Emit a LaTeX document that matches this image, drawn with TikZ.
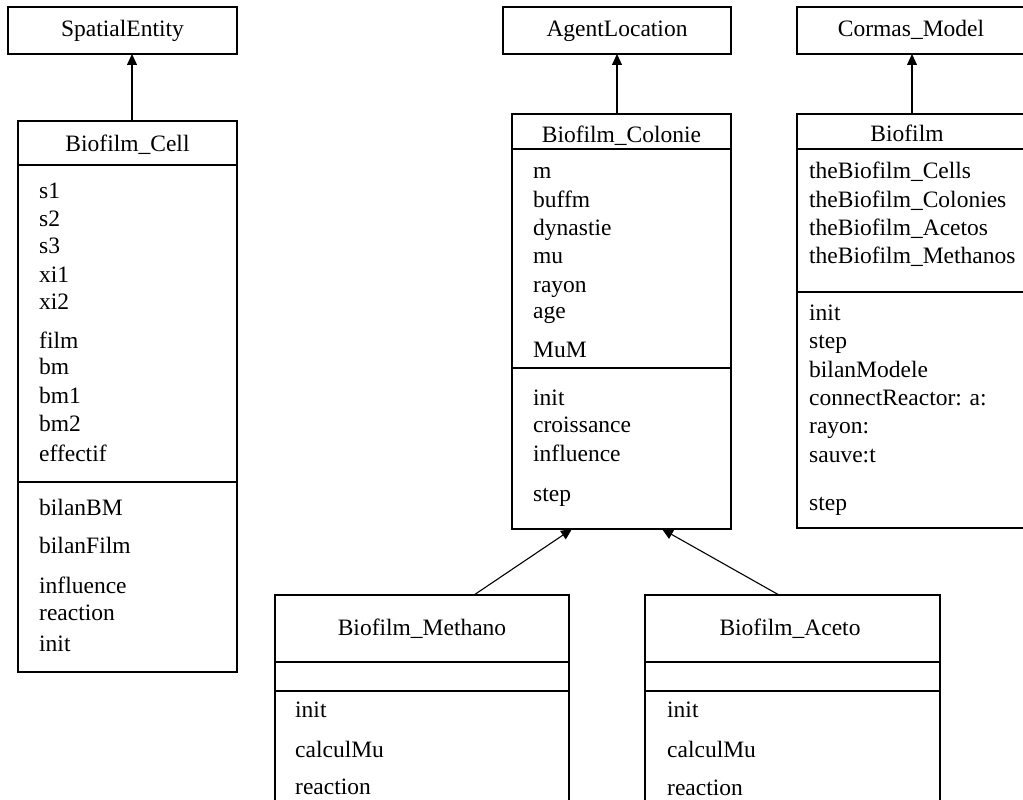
\documentclass[tikz,border=0pt]{standalone}
\usepackage{fontspec}
\setmainfont{Liberation Serif}
\usetikzlibrary{arrows.meta}
\tikzset{
  cls/.style={draw, line width=1.1pt, rectangle, anchor=north west, inner sep=0pt, outer sep=0pt},
  sepline/.style={line width=1.1pt},
  txt/.style={anchor=base west, inner sep=0pt, font=\fontsize{23.5}{28}\selectfont},
  ttl/.style={anchor=base, inner sep=0pt, font=\fontsize{23.5}{28}\selectfont},
  inh/.style={line width=1.1pt, -{Triangle[width=10pt,length=11pt]}}
}
\newcommand{\mtxt}[4]{\node[txt] (#1) at (#2,#3) {#4};}
\begin{document}
\begin{tikzpicture}[x=1pt,y=-1pt]
\useasboundingbox (0,0) rectangle (1023,800);
\fill[white] (0,0) rectangle (1023,800);

% top classes
\node[cls, minimum width=229pt, minimum height=47pt] (spatial) at (8,7) {};
\node[ttl] (spatialT) at (122.5,37) {SpatialEntity};
\node[cls, minimum width=228pt, minimum height=47pt] (agent) at (503,7) {};
\node[ttl] (agentT) at (617,37) {AgentLocation};
\node[cls, minimum width=229pt, minimum height=47pt] (cormas) at (797,7) {};
\node[ttl] (cormasT) at (911,37) {Cormas\_Model};

% Biofilm_Cell
\node[cls, minimum width=219pt, minimum height=551pt] (cell) at (18,121) {};
\node[ttl] (cellT) at (127.5,151) {Biofilm\_Cell};
\draw[sepline] (cell.west |- 0,165) -- (cell.east |- 0,165);
\draw[sepline] (cell.west |- 0,482) -- (cell.east |- 0,482);
\mtxt{c1}{39}{198}{s1}
\mtxt{c2}{39}{226}{s2}
\mtxt{c3}{39}{253}{s3}
\mtxt{c4}{39}{282}{xi1}
\mtxt{c5}{39}{309}{xi2}
\mtxt{c6}{39}{348}{film}
\mtxt{c7}{39}{374}{bm}
\mtxt{c8}{39}{403}{bm1}
\mtxt{c9}{39}{431}{bm2}
\mtxt{c10}{39}{461}{effectif}
\mtxt{c11}{39}{515}{bilanBM}
\mtxt{c12}{39}{553}{bilanFilm}
\mtxt{c13}{39}{593}{influence}
\mtxt{c14}{39}{620}{reaction}
\mtxt{c15}{39}{651}{init}

% Biofilm_Colonie
\node[cls, minimum width=219pt, minimum height=415pt] (colonie) at (512,114) {};
\node[ttl] (colonieT) at (621.5,142) {Biofilm\_Colonie};
\draw[sepline] (colonie.west |- 0,149) -- (colonie.east |- 0,149);
\draw[sepline] (colonie.west |- 0,368) -- (colonie.east |- 0,368);
\mtxt{k1}{533}{178}{m}
\mtxt{k2}{533}{207}{buffm}
\mtxt{k3}{533}{235}{dynastie}
\mtxt{k4}{533}{263}{mu}
\mtxt{k5}{533}{292}{rayon}
\mtxt{k6}{533}{318}{age}
\mtxt{k7}{533}{357}{MuM}
\mtxt{k8}{533}{405}{init}
\mtxt{k9}{533}{432}{croissance}
\mtxt{k10}{533}{461}{influence}
\mtxt{k11}{533}{501}{step}

% Biofilm
\node[cls, minimum width=229pt, minimum height=414pt] (biofilm) at (797,114) {};
\node[ttl] (biofilmT) at (907,141) {Biofilm};
\draw[sepline] (biofilm.west |- 0,149) -- (biofilm.east |- 0,149);
\draw[sepline] (biofilm.west |- 0,292) -- (biofilm.east |- 0,292);
\mtxt{b1}{809}{178}{theBiofilm\_Cells}
\mtxt{b2}{809}{207}{theBiofilm\_Colonies}
\mtxt{b3}{809}{235}{theBiofilm\_Acetos}
\mtxt{b4}{809}{263}{theBiofilm\_Methanos}
\mtxt{b5}{809}{320}{init}
\mtxt{b6}{809}{348}{step}
\mtxt{b7}{809}{377}{bilanModele}
\mtxt{b8}{809}{405}{connectReactor: a:}
\mtxt{b9}{809}{433}{rayon:}
\mtxt{b10}{809}{462}{sauve:t}
\mtxt{b11}{809}{510}{step}

% Biofilm_Methano
\node[cls, minimum width=294pt, minimum height=220pt] (methano) at (275,595) {};
\node[ttl] (methanoT) at (422,635) {Biofilm\_Methano};
\draw[sepline] (methano.west |- 0,662) -- (methano.east |- 0,662);
\draw[sepline] (methano.west |- 0,691) -- (methano.east |- 0,691);
\mtxt{m1}{295}{717}{init}
\mtxt{m2}{295}{757}{calculMu}
\mtxt{m3}{295}{794}{reaction}

% Biofilm_Aceto
\node[cls, minimum width=295pt, minimum height=220pt] (aceto) at (645,595) {};
\node[ttl] (acetoT) at (790,635) {Biofilm\_Aceto};
\draw[sepline] (aceto.west |- 0,662) -- (aceto.east |- 0,662);
\draw[sepline] (aceto.west |- 0,691) -- (aceto.east |- 0,691);
\mtxt{a1}{667}{717}{init}
\mtxt{a2}{667}{757}{calculMu}
\mtxt{a3}{667}{795}{reaction}

% inheritance arrows
\draw[inh] (cell.north -| 132,0) -- (spatial.south -| 132,0);
\draw[inh] (colonie.north -| 617,0) -- (agent.south -| 617,0);
\draw[inh] (biofilm.north -| 912,0) -- (cormas.south -| 912,0);
\draw[inh] (methano.north -| 474,0) -- (colonie.south -| 572,0);
\draw[inh] (aceto.north -| 779,0) -- (colonie.south -| 662,0);
\end{tikzpicture}
\end{document}
